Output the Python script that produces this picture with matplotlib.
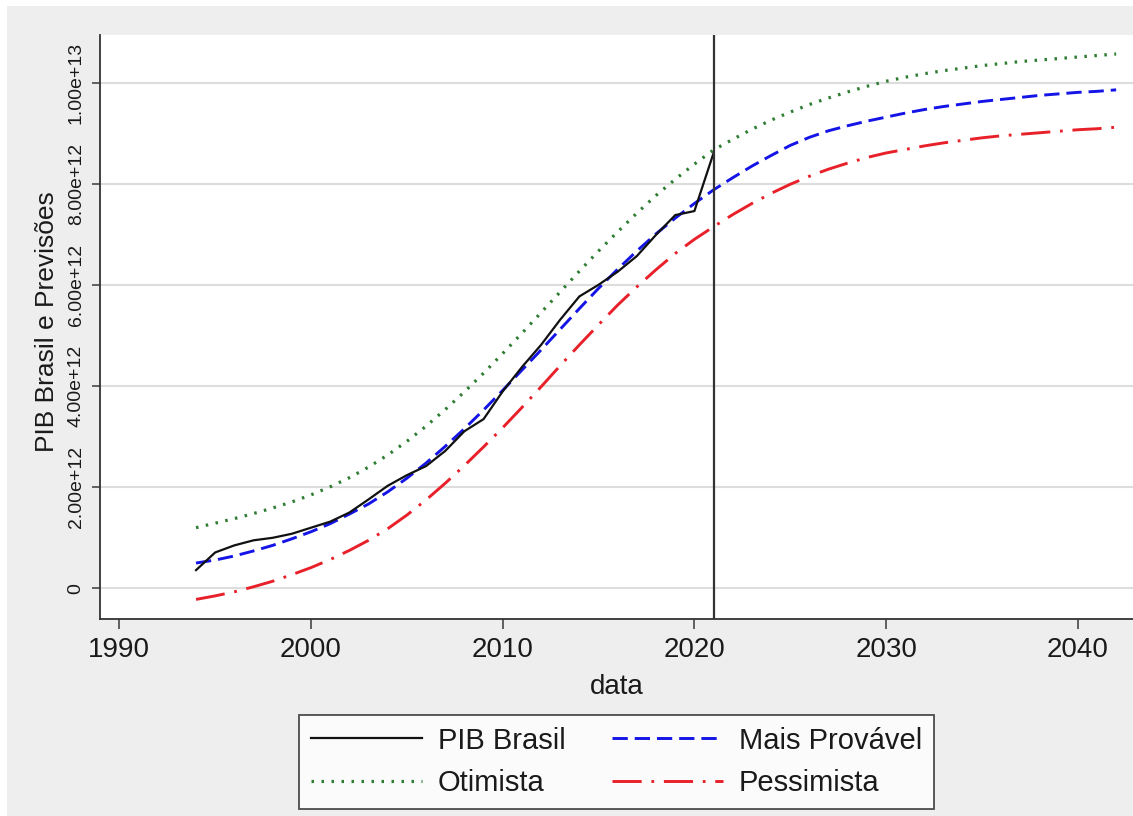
import matplotlib
matplotlib.use("Agg")
import matplotlib.pyplot as plt
from matplotlib.patches import Rectangle

plt.rcParams['font.family'] = ['Liberation Sans', 'DejaVu Sans']
plt.rcParams['lines.scale_dashes'] = False

# ---------------- data ----------------
years_hist = list(range(1994, 2022))
pib_brasil = [0.36, 0.71, 0.85, 0.95, 1.00, 1.08, 1.20, 1.32, 1.50, 1.76, 2.03, 2.24,
              2.42, 2.72, 3.11, 3.35, 3.90, 4.38, 4.82, 5.32, 5.78, 6.01, 6.27, 6.58,
              7.00, 7.39, 7.47, 8.62]  # x 1e12

years_proj = list(range(1994, 2043))
mais_provavel = [0.50, 0.56, 0.64, 0.74, 0.85, 0.98, 1.12, 1.28, 1.47, 1.67, 1.91, 2.18,
                 2.48, 2.81, 3.16, 3.53, 3.92, 4.32, 4.72, 5.13, 5.54, 5.94, 6.32, 6.68,
                 7.02, 7.33, 7.62, 7.89, 8.13, 8.36, 8.57, 8.77, 8.93, 9.06, 9.16, 9.25,
                 9.33, 9.41, 9.48, 9.54, 9.59, 9.64, 9.68, 9.72, 9.76, 9.79, 9.82, 9.84,
                 9.87]
otimista = [1.20, 1.29, 1.38, 1.48, 1.59, 1.71, 1.85, 2.01, 2.19, 2.40, 2.64, 2.91,
            3.21, 3.54, 3.89, 4.26, 4.65, 5.05, 5.46, 5.87, 6.28, 6.68, 7.06, 7.43,
            7.78, 8.10, 8.40, 8.68, 8.89, 9.09, 9.27, 9.43, 9.58, 9.71, 9.83, 9.94,
            10.04, 10.12, 10.19, 10.25, 10.30, 10.35, 10.39, 10.43, 10.46, 10.49, 10.52, 10.55,
            10.58]
pessimista = [-0.22, -0.15, -0.07, 0.03, 0.14, 0.27, 0.41, 0.57, 0.75, 0.95, 1.18, 1.45,
              1.75, 2.08, 2.43, 2.80, 3.18, 3.58, 3.99, 4.41, 4.82, 5.22, 5.61, 5.97,
              6.31, 6.63, 6.91, 7.16, 7.40, 7.62, 7.82, 8.00, 8.16, 8.30, 8.42, 8.53,
              8.62, 8.69, 8.76, 8.82, 8.87, 8.92, 8.96, 8.99, 9.02, 9.05, 9.08, 9.10,
              9.13]
corte = 2021

x_ticks = [1990, 2000, 2010, 2020, 2030, 2040]
y_ticks = [0, 2e12, 4e12, 6e12, 8e12, 1e13]
y_ticklabels = ['0', '2.00e+12', '4.00e+12', '6.00e+12', '8.00e+12', '1.00e+13']

labels = ['PIB Brasil', 'Otimista', 'Mais Provável', 'Pessimista']

scale = 1e12
# --------------------------------------

W, H = 1133, 816
fig = plt.figure(figsize=(W / 100, H / 100), dpi=100)
fig.patch.set_facecolor('white')
fig.patches.append(Rectangle((7 / W, 0), 1 - 7 / W, 1 - 6 / H, transform=fig.transFigure,
                             facecolor='#eeeeee', edgecolor='none', zorder=-10))

ax = fig.add_axes([100 / W, 1 - 619 / H, 1033 / W, 584 / H])
ax.set_facecolor('white')

l_pib, = ax.plot(years_hist, [v * scale for v in pib_brasil], color='#111111', lw=1.6,
                 solid_joinstyle='round', zorder=5)
l_mp, = ax.plot(years_proj, [v * scale for v in mais_provavel], color='#1414e6', lw=2.1,
                dashes=(11, 5), zorder=4)
l_ot, = ax.plot(years_proj, [v * scale for v in otimista], color='#2e7d32', lw=2.3,
                dashes=(1.8, 5.4), zorder=4)
l_pe, = ax.plot(years_proj, [v * scale for v in pessimista], color='#e8202a', lw=2.1,
                dashes=(21, 7, 2, 7), zorder=4)
ax.axvline(corte, color='#333333', lw=1.6, zorder=6)

ax.set_xlim(1988.99, 2042.88)
ax.set_ylim(-0.608e12, 10.956e12)

ax.set_xticks(x_ticks)
ax.set_xticklabels([str(t) for t in x_ticks])
ax.set_yticks(y_ticks)
ax.set_yticklabels(y_ticklabels, rotation=90, va='center')

ax.grid(axis='y', color='#dddddd', lw=1.5)
ax.set_axisbelow(True)
for s in ['top', 'right']:
    ax.spines[s].set_visible(False)
for s in ['left', 'bottom']:
    ax.spines[s].set_color('#333333')
    ax.spines[s].set_linewidth(1.3)

ax.tick_params(axis='x', length=7, width=1.3, color='#555555', labelsize=20,
               labelcolor='#1a1a1a', pad=6)
ax.tick_params(axis='y', length=6, width=1.3, color='#555555', labelsize=14,
               labelcolor='#1a1a1a', pad=5)

fig.text(616.5 / W, 1 - 687 / H, 'data', ha='center', va='center', fontsize=20,
         color='#1a1a1a')
fig.text(47 / W, 1 - 322 / H, 'PIB Brasil e Previsões', ha='center', va='center',
         rotation=90, fontsize=19, color='#1a1a1a')

leg = fig.legend([l_pib, l_ot, l_mp, l_pe], labels, ncol=2, loc='upper center',
                 bbox_to_anchor=(616.5 / W, 1 - 715 / H), borderaxespad=0, fontsize=21,
                 frameon=True, fancybox=False, edgecolor='#222222',
                 handlelength=3.8, handletextpad=0.55, columnspacing=1.6,
                 borderpad=0.4, labelspacing=0.5)
leg.get_frame().set_linewidth(1.3)
leg.get_frame().set_facecolor('white')
for t in leg.get_texts():
    t.set_color('#1a1a1a')

fig.savefig('out.png', dpi=100, facecolor=fig.get_facecolor())
